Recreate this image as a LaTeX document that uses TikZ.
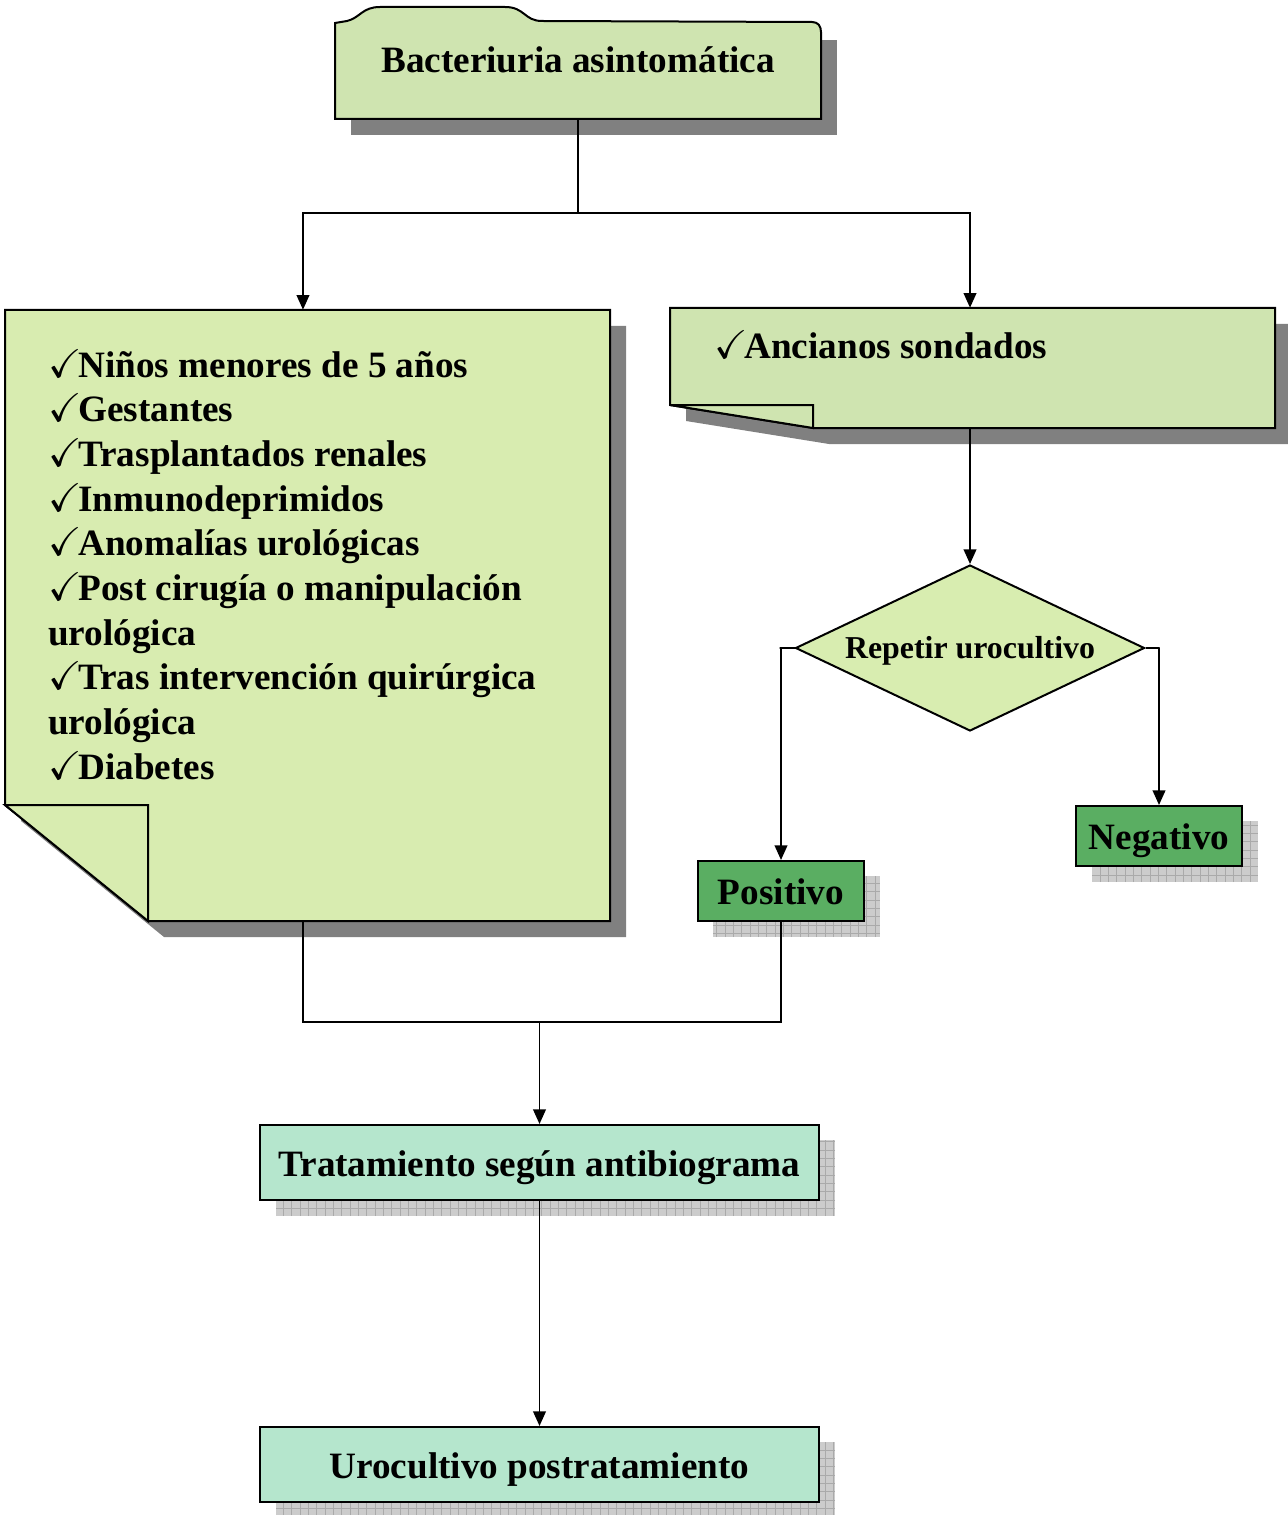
\documentclass[tikz,border=0pt]{standalone}
\usepackage{fontspec}
\setmainfont{Liberation Serif}
\usepackage{amssymb}
\usepackage{graphicx}
\usetikzlibrary{arrows.meta,shapes.geometric}

\definecolor{boxgreen}{RGB}{207,228,176}
\definecolor{notegreen}{RGB}{216,236,176}
\definecolor{diagreen}{RGB}{216,237,176}
\definecolor{darkgreen}{RGB}{90,174,98}
\definecolor{mint}{RGB}{181,230,205}
\definecolor{shadowgray}{RGB}{128,128,128}
\definecolor{hatchfill}{RGB}{204,204,204}
\definecolor{hatchline}{RGB}{170,170,170}

\newcommand{\chk}{\scalebox{1.08}{$\checkmark$}\kern-2.5pt}
\newcommand{\bigtxt}{\fontsize{27.9}{33.5}\selectfont\bfseries}
\newcommand{\midtxt}{\fontsize{23.9}{28}\selectfont\bfseries}

\tikzset{
  outline/.style={draw=black, line width=1.5pt, line join=miter},
  dropshadow/.style={fill=shadowgray, draw=none},
  hatchshadow/.style={fill=hatchfill, draw=none},
  hatchgrid/.style={draw=hatchline, line width=0.5pt},
  area/.style={draw=none, fill=none, inner sep=0pt, rectangle},
  plainbox/.style={outline, rectangle, inner sep=0pt, font=\bigtxt,
                   text height=20.9pt, text depth=0pt},
  label/.style={inner sep=0pt, font=\bigtxt},
  conn/.style={draw=black, line width=1.4pt},
  arrow/.style={conn, -{Triangle[length=11pt, width=9.5pt]}},
}

\begin{document}
\begin{tikzpicture}[x=0.75pt, y=-0.75pt]
\useasboundingbox (0,0) rectangle (1287,1515);

% ---- top folder box ----
\fill[dropshadow] (351,40) rectangle (837,135);
\path[outline, fill=boxgreen] (335,119) -- (335,23) -- (347,21)
  .. controls (360,18) and (362,7) .. (380,7) -- (505,7)
  .. controls (525,7) and (524,21) .. (542,21) -- (812,22)
  .. controls (818,22) and (821,26) .. (821,32) -- (821,119) -- cycle;
\node[area, minimum width=364.5pt, minimum height=72.75pt] (bact) at (578,70.5) {};
\node[label] (bacttxt) at (578,60) {Bacteriuria asintomática};

% ---- left note with folded corner ----
\fill[dropshadow] (21,326) -- (626,326) -- (626,937) -- (164,937) -- (21,821) -- cycle;
\path[outline, fill=notegreen] (5,310) -- (610,310) -- (610,921) -- (148,921) -- (5,805) -- cycle;
\path[outline, fill=notegreen] (5,805) -- (148,805) -- (148,921) -- cycle;
\node[area, minimum width=453.75pt, minimum height=458.25pt] (risk) at (307.5,615.5) {};
\node[label, anchor=north west, align=left] (risktxt) at (48,349) {%
  \chk Niños menores de 5 años\\
  \chk Gestantes\\
  \chk Trasplantados renales\\
  \chk Inmunodeprimidos\\
  \chk Anomalías urológicas\\
  \chk Post cirugía o manipulación\\
  urológica\\
  \chk Tras intervención quirúrgica\\
  urológica\\
  \chk Diabetes};

% ---- right note with folded corner ----
\fill[dropshadow] (686,324) -- (1291,324) -- (1291,444) -- (829,444) -- (686,421) -- cycle;
\path[outline, fill=boxgreen] (670,308) -- (1275,308) -- (1275,428) -- (813,428) -- (670,405) -- cycle;
\path[outline, fill=boxgreen] (670,405) -- (813,405) -- (813,428) -- cycle;
\node[area, minimum width=453.75pt, minimum height=90pt] (elder) at (972.5,368) {};
\node[label, anchor=west] (eldertxt) at (714,345) {\chk Ancianos sondados};

% ---- decision ----
\node[diamond, outline, fill=diagreen, inner sep=0pt, aspect=2.1,
      minimum width=261.75pt, minimum height=124.5pt, font=\midtxt,
      text height=15.8pt, text depth=0pt] (rep) at (970,648) {Repetir urocultivo};

% ---- results ----
\fill[hatchshadow] (713,876) rectangle (880,937);
\draw[hatchgrid, step=6.25pt] (713,876) grid (880,937);
\node[plainbox, fill=darkgreen, minimum width=124.5pt, minimum height=45pt] (pos) at (781,891) {Positivo};

\fill[hatchshadow] (1092,821) rectangle (1258,882);
\draw[hatchgrid, step=6.25pt] (1092,821) grid (1258,882);
\node[plainbox, fill=darkgreen, minimum width=124.5pt, minimum height=45pt] (neg) at (1159,836) {Negativo};

% ---- treatment boxes ----
\fill[hatchshadow] (276,1140) rectangle (835,1216);
\draw[hatchgrid, step=6.25pt] (276,1140) grid (835,1216);
\node[plainbox, fill=mint, minimum width=419.25pt, minimum height=56.25pt] (treat) at (539.5,1162.5) {Tratamiento según antibiograma};

\fill[hatchshadow] (276,1442) rectangle (835,1515);
\draw[hatchgrid, step=6.25pt] (276,1442) grid (835,1515);
\node[plainbox, fill=mint, minimum width=419.25pt, minimum height=56.25pt] (post) at (539.5,1464.5) {Urocultivo postratamiento};

% ---- connectors ----
\coordinate (fork) at (578,213);
\coordinate (join) at (539.5,1022);
\draw[conn] (bact.south) -- (fork);
\draw[arrow] (fork) -| ([xshift=-3.4pt]risk.north);
\draw[arrow] (fork) -| (rep.north |- elder.north);
\draw[arrow] (rep.north |- elder.south) -- (rep.north);
\draw[arrow] (rep.west) -- ++(-15,0) -| (pos.north);
\draw[arrow] (rep.east) -- ++(14,0) -| (neg.north);
\draw[conn] ([xshift=-3.4pt]risk.south) -- ([xshift=-3.4pt]risk.south |- join)
  -- (pos.south |- join) -- (pos.south);
\draw[arrow] (join) -- (treat.north);
\draw[arrow] (treat.south) -- (post.north);
\end{tikzpicture}
\end{document}
